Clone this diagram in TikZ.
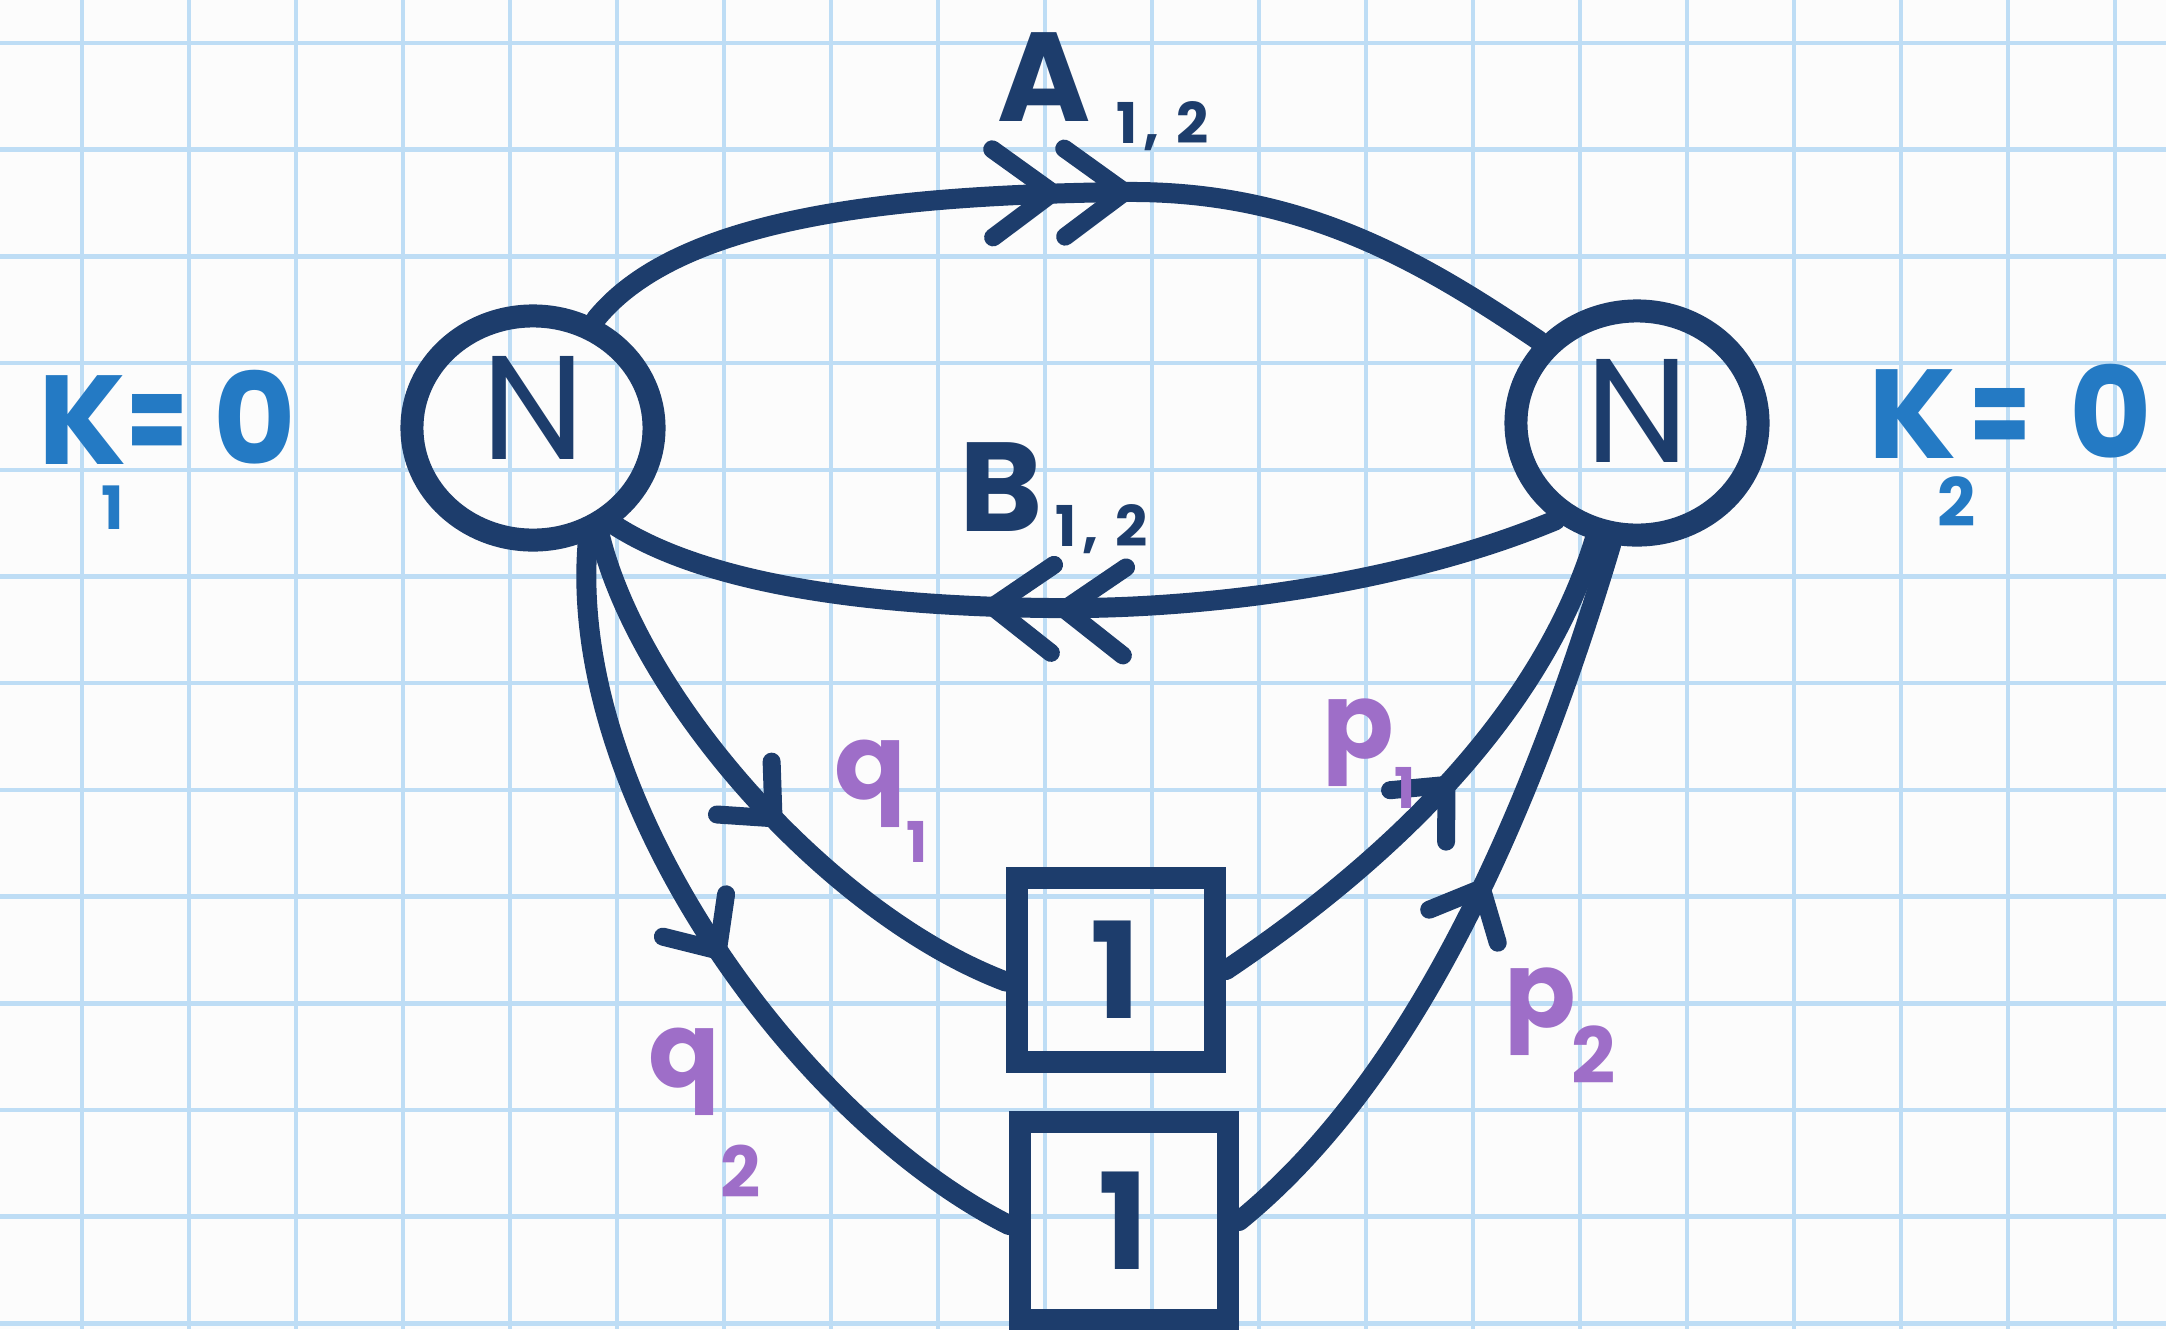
\documentclass[tikz,border=0pt]{standalone}
\usepackage{fontspec}
\usepackage{graphicx}
\setmainfont{Poppins}
\usetikzlibrary{shapes.geometric,decorations.markings}
\definecolor{navy}{RGB}{29,61,108}
\definecolor{kblue}{RGB}{36,122,196}
\definecolor{lav}{RGB}{158,110,200}
\definecolor{gridc}{RGB}{190,221,245}
\definecolor{paper}{RGB}{252,252,252}
\begin{document}
\begin{tikzpicture}[x=0.01cm,y=-0.01cm,
  wire/.style={draw=navy,line width=0.2cm,line cap=round},
  vnode/.style={ellipse,draw=navy,line width=0.23cm,minimum width=2.42cm,minimum height=2.24cm,inner sep=0pt,text=navy,font=\fontsize{42}{42}\selectfont},
  gbox/.style={rectangle,draw=navy,line width=0.22cm,inner sep=0pt,text=navy,font=\bfseries\fontsize{38}{38}\selectfont},
  chevone/.style={postaction={decorate,decoration={markings,mark=at position #1 with {\draw[navy,line width=0.18cm,line cap=round,line join=round] (-0.42cm,0.38cm) -- (0,0) -- (-0.42cm,-0.38cm);}}}},
  chevtwo/.style={postaction={decorate,decoration={markings,mark=at position #1 with {\draw[navy,line width=0.18cm,line cap=round,line join=round] (-0.6cm,0.44cm) -- (0,0) -- (-0.6cm,-0.44cm) (-1.32cm,0.44cm) -- (-0.72cm,0) -- (-1.32cm,-0.44cm);}}}},
  klab/.style={text=kblue,font=\bfseries\fontsize{36}{36}\selectfont,inner sep=0pt},
  plab/.style={text=lav,font=\bfseries\fontsize{30}{30}\selectfont,inner sep=0pt},
  alab/.style={text=navy,font=\bfseries\fontsize{36}{36}\selectfont,inner sep=0pt}]
\useasboundingbox (0,0) rectangle (2166,1329);
\fill[paper] (0,0) rectangle (2166,1329);
\foreach \i in {0,...,19} \draw[gridc,line width=0.045cm] ({82+107*\i},0) -- ({82+107*\i},1329);
\foreach \j in {0,...,12} \draw[gridc,line width=0.045cm] (0,{43+106.7*\j}) -- (2166,{43+106.7*\j});

\node[vnode] (L) at (533,428) {\raisebox{0.4cm}{N}};
\node[vnode] (R) at (1637,423) {\raisebox{0.24cm}{N}};
\node[gbox,minimum width=1.98cm,minimum height=1.84cm] (b1) at (1116,970) {1};
\node[gbox,minimum width=2.08cm,minimum height=1.98cm] (b2) at (1124,1221) {1};
\coordinate (atop) at (1124,192);
\coordinate (bbot) at (1050,608);

\draw[wire,chevtwo=0.555] (L.60) .. controls (680,215) and (900,195) .. (atop) .. controls (1300,190) and (1420,260) .. (R.140);
\draw[wire,chevtwo=0.595] (R.230) .. controls (1400,585) and (1200,610) .. (bbot) .. controls (850,606) and (700,580) .. (L.310);
\draw[wire,chevone=0.54] (L.302) .. controls (640,700) and (830,915) .. (b1.186);
\draw[wire,chevone=0.52] (L.296) .. controls (565,800) and (800,1120) .. (b2.182);
\draw[wire,chevone=0.5] (b1.east) .. controls (1330,900) and (1530,750) .. (R.250);
\draw[wire,chevone=0.53] (b2.east) .. controls (1400,1090) and (1520,850) .. (R.258);

\node[alab,anchor=base west] (la) at (997,121) {A\hspace{0.2em}\raisebox{-0.22cm}{\fontsize{16}{16}\selectfont 1\hspace{0.1em},\hspace{0.3em}2}};
\node[alab,anchor=base west] (lb) at (959,531) {B\hspace{0.1em}\raisebox{-0.15cm}{\fontsize{16}{16}\selectfont 1\hspace{0.1em},\hspace{0.3em}2}};
\node[klab,anchor=base west] (k1) at (38,464) {K\hspace{-0.2em}\raisebox{-0.65cm}{\fontsize{17}{17}\selectfont 1}\hspace{0.02em}\scalebox{0.7}[1]{=}\hspace{0.2em}0};
\node[klab,anchor=base west] (k2) at (1868,458) {K\hspace{-0.15em}\raisebox{-0.68cm}{\fontsize{19}{19}\selectfont 2}\hspace{-0.05em}\scalebox{0.7}[1]{=}\hspace{0.3em}0};
\node[plab,anchor=base west] (q1l) at (834,799) {q\raisebox{-0.63cm}{\fontsize{16}{16}\selectfont 1}};
\node[plab,anchor=base west] (q2l) at (648,1087) {q\raisebox{-1.1cm}{\fontsize{20}{20}\selectfont 2}};
\node[plab,anchor=base west] (p1l) at (1322,758) {p\raisebox{-0.5cm}{\fontsize{16}{16}\selectfont 1}};
\node[plab,anchor=base west] (p2l) at (1504,1027) {p\hspace{-0.05em}\raisebox{-0.56cm}{\fontsize{22}{22}\selectfont 2}};
\end{tikzpicture}
\end{document}
